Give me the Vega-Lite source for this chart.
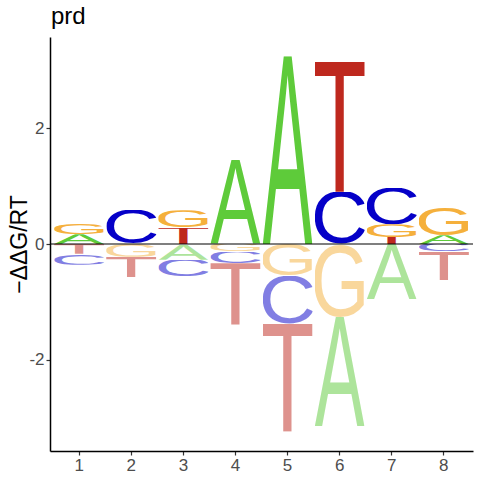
{
  "$schema": "https://vega.github.io/schema/vega-lite/v6.json",
  "width": 423,
  "height": 414,
  "autosize": {"type": "none"},
  "padding": {"left": 50, "top": 37, "right": 7, "bottom": 29},
  "background": "white",
  "config": {"view": {"stroke": null}, "font": "Liberation Sans"},
  "title": {
    "text": "prd",
    "anchor": "start",
    "frame": "group",
    "font": "Liberation Sans",
    "fontSize": 24,
    "fontWeight": "normal",
    "color": "black",
    "offset": 8,
    "dx": 1
  },
  "datasets": {
    "glyphs": [
      {"letter": "A", "url": "data:image/svg+xml;utf8,%3Csvg%20xmlns='http://www.w3.org/2000/svg'%20viewBox='-3%20-1409%201372%201409'%20preserveAspectRatio='none'%3E%3Ctext%20font-family='Liberation%20Sans'%20font-size='2048'%20fill='rgb(94,203,58)'%3EA%3C/text%3E%3C/svg%3E"},
      {"letter": "C", "url": "data:image/svg+xml;utf8,%3Csvg%20xmlns='http://www.w3.org/2000/svg'%20viewBox='100%20-1433%201288%201457'%20preserveAspectRatio='none'%3E%3Ctext%20font-family='Liberation%20Sans'%20font-size='2048'%20fill='rgb(5,0,200)'%3EC%3C/text%3E%3C/svg%3E"},
      {"letter": "G", "url": "data:image/svg+xml;utf8,%3Csvg%20xmlns='http://www.w3.org/2000/svg'%20viewBox='109%20-1433%201353%201457'%20preserveAspectRatio='none'%3E%3Ctext%20font-family='Liberation%20Sans'%20font-size='2048'%20fill='rgb(245,176,60)'%3EG%3C/text%3E%3C/svg%3E"},
      {"letter": "T", "url": "data:image/svg+xml;utf8,%3Csvg%20xmlns='http://www.w3.org/2000/svg'%20viewBox='50%20-1409%201152%201409'%20preserveAspectRatio='none'%3E%3Ctext%20font-family='Liberation%20Sans'%20font-size='2048'%20fill='rgb(190,40,30)'%3ET%3C/text%3E%3C/svg%3E"}
    ]
  },
  "layer": [
    {
      "data": {
        "values": [
          {"pos": 1, "letter": "A", "value": 0.17},
          {"pos": 1, "letter": "G", "value": 0.19},
          {"pos": 1, "letter": "T", "value": -0.17},
          {"pos": 1, "letter": "C", "value": -0.19},
          {"pos": 2, "letter": "C", "value": 0.59},
          {"pos": 2, "letter": "G", "value": -0.22},
          {"pos": 2, "letter": "T", "value": -0.35},
          {"pos": 3, "letter": "T", "value": 0.28},
          {"pos": 3, "letter": "G", "value": 0.3},
          {"pos": 3, "letter": "A", "value": -0.27},
          {"pos": 3, "letter": "C", "value": -0.29},
          {"pos": 4, "letter": "A", "value": 1.45},
          {"pos": 4, "letter": "G", "value": -0.13},
          {"pos": 4, "letter": "C", "value": -0.2},
          {"pos": 4, "letter": "T", "value": -1.07},
          {"pos": 5, "letter": "A", "value": 3.24},
          {"pos": 5, "letter": "G", "value": -0.55},
          {"pos": 5, "letter": "C", "value": -0.83},
          {"pos": 5, "letter": "T", "value": -1.86},
          {"pos": 6, "letter": "C", "value": 0.9},
          {"pos": 6, "letter": "T", "value": 2.24},
          {"pos": 6, "letter": "G", "value": -1.26},
          {"pos": 6, "letter": "A", "value": -1.88},
          {"pos": 7, "letter": "T", "value": 0.12},
          {"pos": 7, "letter": "G", "value": 0.22},
          {"pos": 7, "letter": "C", "value": 0.63},
          {"pos": 7, "letter": "A", "value": -0.95},
          {"pos": 8, "letter": "A", "value": 0.15},
          {"pos": 8, "letter": "G", "value": 0.48},
          {"pos": 8, "letter": "C", "value": -0.13},
          {"pos": 8, "letter": "T", "value": -0.49}
        ]
      },
      "transform": [
        {"lookup": "letter", "from": {"data": {"name": "glyphs"}, "key": "letter", "fields": ["url"]}},
        {"calculate": "abs(datum.value)", "as": "mag"},
        {"stack": "value", "groupby": ["pos"], "sort": [{"field": "mag", "order": "ascending"}], "as": ["lo", "hi"]}
      ],
      "mark": {"type": "image", "aspect": false},
      "encoding": {
        "x": {
          "field": "pos",
          "type": "ordinal",
          "scale": {"paddingInner": 0.04, "paddingOuter": 0.08},
          "axis": {
            "title": null,
            "labelAngle": 0,
            "labelFont": "Liberation Sans",
            "labelFontSize": 17,
            "labelColor": "#4d4d4d",
            "labelPadding": 2,
            "tickColor": "#333333",
            "tickSize": 4,
            "tickWidth": 1.2,
            "domainColor": "black",
            "domainWidth": 1.5,
            "grid": false
          }
        },
        "y": {
          "field": "lo",
          "type": "quantitative",
          "scale": {"domain": [-3.57, 3.57], "nice": false, "zero": false},
          "axis": {
            "title": "−ΔΔG/RT",
            "titleFont": "Liberation Sans",
            "titleFontSize": 23,
            "titleFontWeight": "normal",
            "titleColor": "black",
            "titleAngle": 270,
            "titleAlign": "center",
            "titleBaseline": "middle",
            "titleX": -31,
            "titleY": 207,
            "values": [-2, 0, 2],
            "labelExpr": "toString(datum.value)",
            "labelFont": "Liberation Sans",
            "labelFontSize": 17,
            "labelColor": "#4d4d4d",
            "labelPadding": 2,
            "tickColor": "#333333",
            "tickSize": 4,
            "tickWidth": 1.2,
            "domainColor": "black",
            "domainWidth": 1.5,
            "grid": false
          }
        },
        "y2": {"field": "hi"},
        "url": {"field": "url", "type": "nominal"},
        "opacity": {"condition": {"test": "datum.value < 0", "value": 0.5}, "value": 1}
      }
    },
    {
      "data": {"values": [{}]},
      "mark": {"type": "rule", "color": "black", "strokeWidth": 1.2},
      "encoding": {"y": {"datum": 0}}
    }
  ]
}
